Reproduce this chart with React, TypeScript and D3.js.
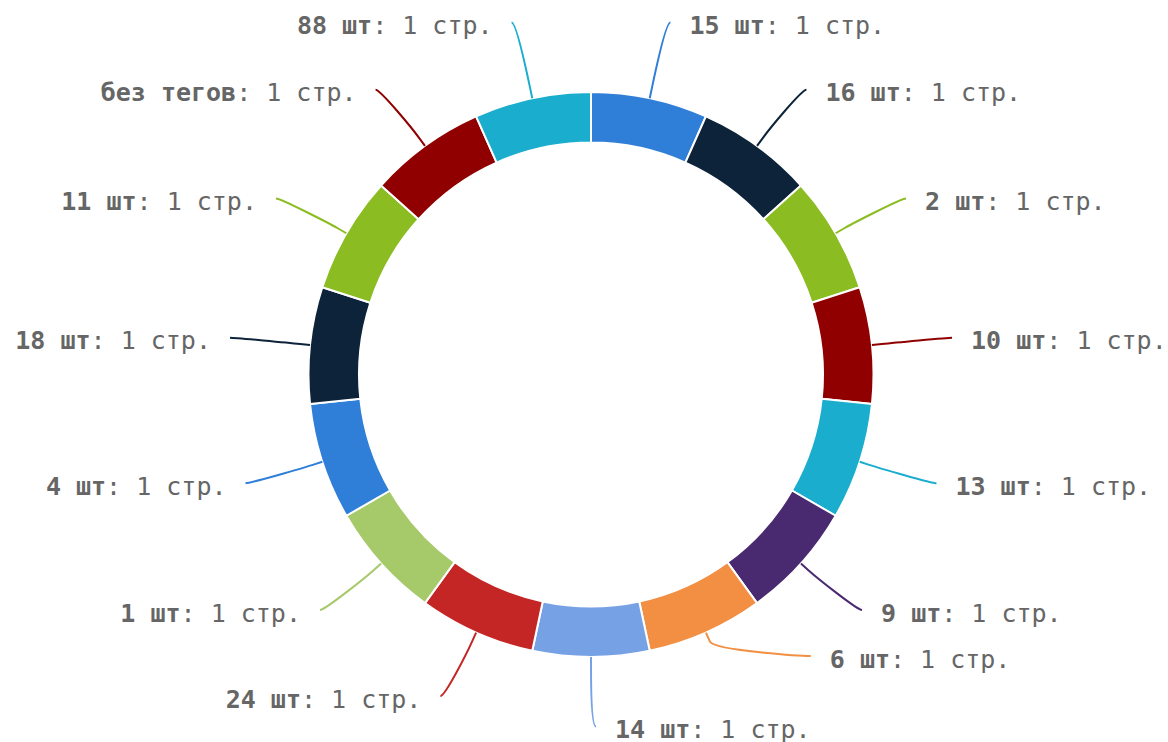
import * as d3 from 'd3';
import React, { useEffect, useRef } from 'react';

// slices, clockwise from 12 o'clock
const tagNames = [
    "15 шт", "16 шт", "2 шт", "10 шт", "13 шт", "9 шт", "6 шт", "14 шт",
    "24 шт", "1 шт", "4 шт", "18 шт", "11 шт", "без тегов", "88 шт"
];
const pageCounts = [1, 1, 1, 1, 1, 1, 1, 1, 1, 1, 1, 1, 1, 1, 1];
const unitLabel = "стр.";

const palette = [
    "#2f7ed8", "#0d233a", "#8bbc21", "#910000", "#1aadce",
    "#492970", "#f28f43", "#77a1e5", "#c42525", "#a6c96a"
];

const App = () => {
    const svgRef = useRef(null);

    useEffect(() => {
        const width = 1168;
        const height = 742;
        const cx = 591;
        const cy = 374.5;
        const outerR = 282.5;
        const innerR = 232;
        const labelRY = 352;   // vertical reach of the labels
        const labelRX = 358;   // horizontal reach of the labels
        const slotHeight = 70.4;
        const connectorOffset = 10;

        const svg = d3.select(svgRef.current);
        svg.selectAll("*").remove();
        svg.attr("width", width).attr("height", height);

        const data = tagNames.map((name, i) => ({ name, value: pageCounts[i] }));
        const arcs = d3.pie().sort(null).value(d => d.value)(data);
        const arc = d3.arc().innerRadius(innerR).outerRadius(outerR);

        svg.append("g")
            .attr("transform", `translate(${cx},${cy})`)
            .selectAll("path")
            .data(arcs)
            .enter().append("path")
            .attr("d", arc)
            .attr("fill", (d, i) => palette[i % palette.length])
            .attr("stroke", "#fff")
            .attr("stroke-width", 2)
            .attr("stroke-linejoin", "round");

        // label positions, roughly the way the old highcharts pie did it (slots)
        const points = arcs.map((d, i) => {
            const a = (d.startAngle + d.endAngle) / 2;
            return {
                d, i, a,
                right: a <= Math.PI + 1e-6,
                naturalY: cy - labelRY * Math.cos(a),
                edge: [cx + outerR * Math.sin(a), cy - outerR * Math.cos(a)],
                brk: [cx + (outerR + connectorOffset) * Math.sin(a), cy - (outerR + connectorOffset) * Math.cos(a)],
                x: 0, y: 0
            };
        });

        const slotsY = [];
        for (let pos = cy - labelRY; pos <= cy + labelRY + 0.001; pos += slotHeight) slotsY.push(pos);

        const getX = (y, right) => {
            const t = Math.max(-1, Math.min(1, (y - cy) / labelRY));
            return cx + (right ? 1 : -1) * labelRX * Math.sqrt(1 - t * t);
        };

        [true, false].forEach(side => {
            const half = points.filter(p => p.right === side).sort((p, q) => p.naturalY - q.naturalY);
            const slots = slotsY.slice();
            const n = half.length;
            const m = slots.length;
            const used = [];
            half.forEach((p, j) => {
                let idx = 0;
                let best = Infinity;
                slots.forEach((s, k) => {
                    if (s === null) return;
                    const dd = Math.abs(s - p.naturalY);
                    if (dd < best) { best = dd; idx = k; }
                });
                if (idx < j && slots[j] !== null) {
                    idx = j;
                } else if (m < n - j + idx && slots[j] !== null) {
                    idx = m - n + j;
                    while (slots[idx] === null) idx++;
                } else {
                    while (slots[idx] === null) idx++;
                }
                used.push(idx);
                slots[idx] = null;
            });
            used.sort((a, b) => a - b);
            half.forEach((p, j) => {
                const idx = used[j];
                const ny = p.naturalY;
                const edgeSlot = idx === 0 || idx === m - 1;
                let y = slotsY[idx];
                if (ny > y && (slots[idx + 1] !== null || (!edgeSlot && slotsY[idx + 1] - ny >= 40))) y = ny;
                else if (ny < y && (slots[idx - 1] !== null || (!edgeSlot && ny - slotsY[idx - 1] >= 40))) y = ny;
                p.y = y;
                p.x = getX(edgeSlot ? ny : y, side);
            });
        });

        const labels = svg.append("g");

        points.forEach(p => {
            const s = p.right ? 1 : -1;
            const [ex, ey] = p.edge;
            const [bx, by] = p.brk;
            labels.append("path")
                .attr("d", `M ${p.x + 5 * s} ${p.y} C ${p.x} ${p.y} ${2 * bx - ex} ${2 * by - ey} ${bx} ${by} L ${ex} ${ey}`)
                .attr("fill", "none")
                .attr("stroke", palette[p.i % palette.length])
                .attr("stroke-width", 2);

            const text = labels.append("text")
                .attr("x", p.x + 24 * s)
                .attr("y", p.y + 11.5)
                .attr("text-anchor", p.right ? "start" : "end")
                .attr("font-family", "'DejaVu Sans Mono', monospace")
                .attr("font-size", 25)
                .attr("fill", "#666");
            text.append("tspan").attr("font-weight", "bold").text(p.d.data.name);
            text.append("tspan").text(`: ${p.d.data.value} ${unitLabel}`);
        });
    }, []);

    return (
        <svg ref={svgRef} style={{ position: "absolute", left: 0, top: 0, background: "#fff" }} />
    );
};

export default App;
